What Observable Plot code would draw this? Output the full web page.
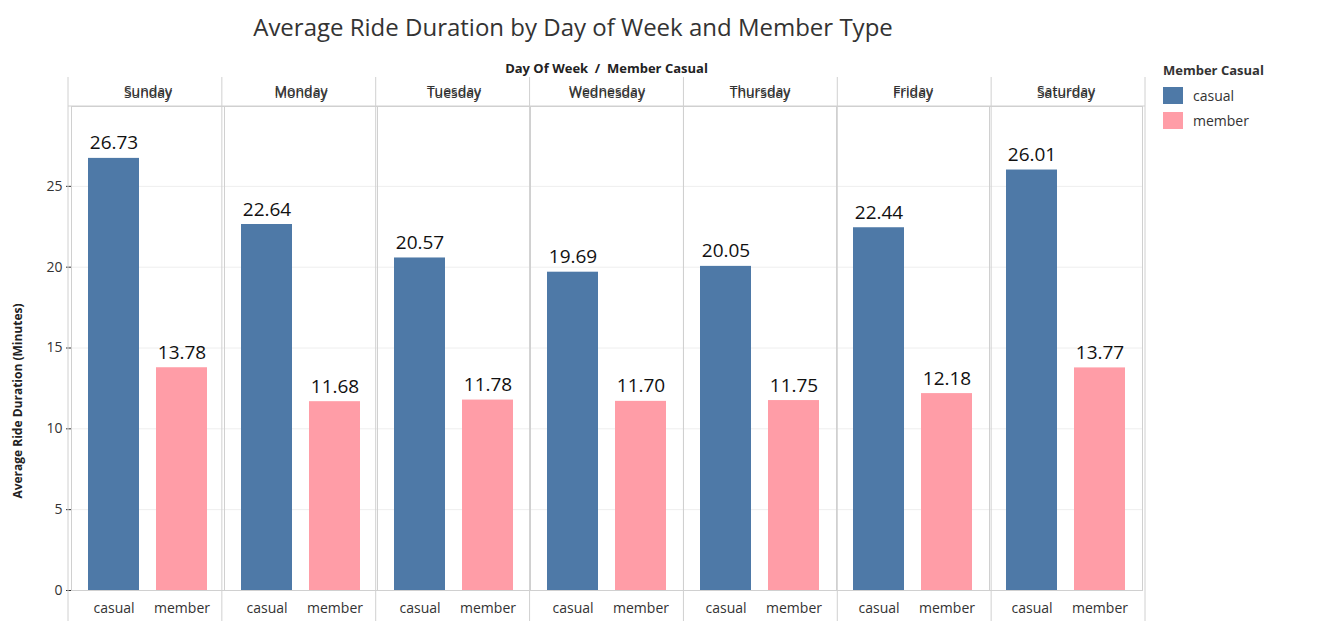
<!DOCTYPE html>
<html>
<head>
<meta charset="utf-8">
<script src="https://cdn.jsdelivr.net/npm/d3@7"></script>
<script src="https://cdn.jsdelivr.net/npm/@observablehq/plot@0.6"></script>
<style>
  body { margin: 0; font-family: "Open Sans", "Noto Sans", sans-serif; background: #fff; }
  #wrap { position: relative; width: 1340px; height: 621px; }
  #title { position: absolute; left: 0; width: 1146px; top: 10px; text-align: center; font-size: 24px; color: #333; }
  #head { position: absolute; left: 68px; width: 1077px; top: 59px; text-align: center; font-size: 13px; font-weight: bold; color: #222; }
  #chart { position: absolute; left: 0; top: 55px; }
  #legend { position: absolute; left: 1163px; top: 61px; font-size: 14px; color: #333; }
  #legend .t { font-weight: bold; font-size: 13px; margin-bottom: 4px; }
  #legend .i { display: flex; align-items: center; height: 25px; }
  #legend .s { width: 20px; height: 17px; margin-right: 10px; }
</style>
</head>
<body>
<div id="wrap">
  <div id="title">Average Ride Duration by Day of Week and Member Type</div>
  <div id="head">Day Of Week&nbsp; /&nbsp; Member Casual</div>
  <div id="chart"></div>
  <div id="legend">
    <div class="t">Member Casual</div>
    <div class="i"><div class="s" style="background:#4e79a7"></div>casual</div>
    <div class="i"><div class="s" style="background:#ff9da7"></div>member</div>
  </div>
</div>
<script>
const days = ["Sunday", "Monday", "Tuesday", "Wednesday", "Thursday", "Friday", "Saturday"];
const types = ["casual", "member"];
const casual = [26.73, 22.64, 20.57, 19.69, 20.05, 22.44, 26.01];
const member = [13.78, 11.68, 11.78, 11.70, 11.75, 12.18, 13.77];
const colors = ["#4e79a7", "#ff9da7"];

const data = days.flatMap((day, i) => [
  {day, type: "casual", value: casual[i]},
  {day, type: "member", value: member[i]}
]);

const chart = Plot.plot({
  width: 1146,
  height: 566,
  marginTop: 51,
  marginBottom: 31,
  marginLeft: 68,
  marginRight: 1,
  style: {fontSize: 14, fontFamily: "Open Sans, Noto Sans, sans-serif", color: "#333"},
  fx: {domain: days, padding: 0, label: null, axis: "top", tickSize: 0},
  x: {domain: types, padding: 0.25, label: null, tickSize: 0},
  y: {domain: [0, 29.94], ticks: [0, 5, 10, 15, 20, 25], label: null},
  color: {domain: types, range: colors},
  marks: [
    Plot.gridY([5, 10, 15, 20, 25], {stroke: "#eee", strokeOpacity: 1}),
    Plot.frame({stroke: "#d0d0d0"}),
    Plot.barY(data, {fx: "day", x: "type", y: "value", fill: "type"}),
    Plot.text(data, {fx: "day", x: "type", y: "value", text: d => d.value.toFixed(2), dy: -15, fontSize: 19, fill: "#111"}),
    Plot.axisY({ticks: [0, 5, 10, 15, 20, 25], tickSize: 5, fontSize: 14, label: null}),
    Plot.axisFx({anchor: "top", tickSize: 0, label: null, fontSize: 14, dy: -2}),
    Plot.axisX({anchor: "bottom", tickSize: 0, label: null, fontSize: 14, dy: 4})
  ]
});

d3.select("#chart").append(() => chart);
const svg = d3.select(chart);
svg.append("text")
  .attr("transform", "translate(22,346) rotate(-90)")
  .attr("text-anchor", "middle")
  .attr("font-size", 12).attr("font-weight", "bold").attr("fill", "#222")
  .text("Average Ride Duration (Minutes)");
// header box lines
svg.append("line").attr("x1", 68).attr("x2", 1145).attr("y1", 51).attr("y2", 51).attr("stroke", "#d0d0d0");
const fw = (1145 - 68) / 7;
for (let i = 0; i <= 7; i++) {
  svg.append("line").attr("x1", 68 + i * fw).attr("x2", 68 + i * fw)
    .attr("y1", 22).attr("y2", 566).attr("stroke", "#d0d0d0");
}
</script>
</body>
</html>
